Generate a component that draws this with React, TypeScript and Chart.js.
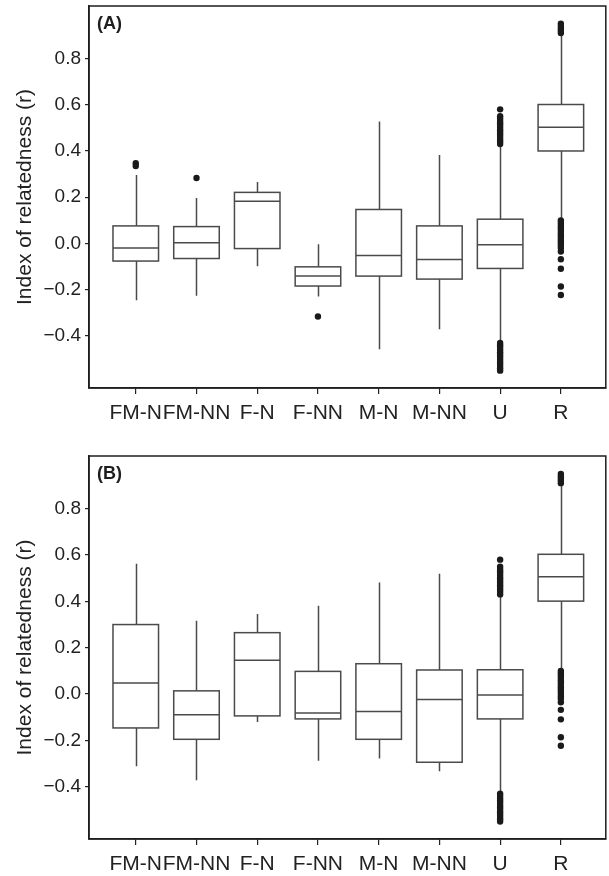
import React, { useEffect, useRef } from "react";
import { Chart, registerables } from "chart.js";

Chart.register(...registerables);

const FONT = '"Liberation Sans", Arial, Helvetica, sans-serif';

const categories = ["FM-N", "FM-NN", "F-N", "F-NN", "M-N", "M-NN", "U", "R"];
const panelLabels = ["(A)", "(B)"];
const yTickValues = [-0.4, -0.2, 0, 0.2, 0.4, 0.6, 0.8];
const yAxisTitle = "Index of relatedness (r)";

// Shared outliers for U and R
const uOutliers = [
  0.43, 0.44, 0.45, 0.46, 0.47, 0.48, 0.49, 0.5, 0.51, 0.52, 0.53, 0.54, 0.55, 0.58,
  -0.43, -0.44, -0.45, -0.46, -0.47, -0.48, -0.49, -0.5, -0.51, -0.52, -0.53, -0.54, -0.55,
];
const rOutliers = [
  0.91, 0.92, 0.93, 0.94, 0.95,
  0.1, 0.09, 0.08, 0.07, 0.06, 0.05, 0.04, 0.03, 0.02, 0.01, 0.0, -0.01, -0.02, -0.035,
  -0.068, -0.109, -0.186, -0.223,
];

// Panel A
const aWhiskerLow = [-0.246, -0.226, -0.099, -0.229, -0.457, -0.371, -0.423, 0.102];
const aQ1 = [-0.076, -0.065, -0.022, -0.184, -0.141, -0.154, -0.108, 0.4];
const aMedian = [-0.02, 0.003, 0.183, -0.141, -0.052, -0.069, -0.006, 0.503];
const aQ3 = [0.076, 0.073, 0.221, -0.101, 0.147, 0.076, 0.105, 0.601];
const aWhiskerHigh = [0.296, 0.197, 0.266, -0.003, 0.528, 0.383, 0.423, 0.907];
const aOutliers = [[0.335, 0.347], [0.283], [], [-0.316], [], [], uOutliers, rOutliers];

// Panel B
const bWhiskerLow = [-0.311, -0.372, -0.12, -0.288, -0.278, -0.333, -0.423, 0.102];
const bQ1 = [-0.146, -0.195, -0.094, -0.107, -0.195, -0.294, -0.107, 0.401];
const bMedian = [0.048, -0.089, 0.146, -0.081, -0.075, -0.023, -0.004, 0.506];
const bQ3 = [0.3, 0.014, 0.265, 0.098, 0.131, 0.104, 0.105, 0.603];
const bWhiskerHigh = [0.562, 0.316, 0.346, 0.381, 0.481, 0.519, 0.423, 0.907];
const bOutliers = [[], [], [], [], [], [], uOutliers, rOutliers];

type Stats = {
  lo: number[];
  q1: number[];
  med: number[];
  q3: number[];
  hi: number[];
  out: number[][];
};

function makeChart(
  canvas: HTMLCanvasElement,
  stats: Stats,
  label: string,
  padTop: number,
  xAxisHeight: number
) {
  const halfW = 0.375;
  const boxPlugin = {
    id: "boxes",
    beforeDatasetsDraw(chart: any) {
      const { ctx } = chart;
      const x = chart.scales.x;
      const y = chart.scales.y;
      ctx.save();
      ctx.strokeStyle = "#4a4a4a";
      ctx.lineWidth = 1.5;
      categories.forEach((_, i) => {
        const xc = Math.round(x.getPixelForValue(i + 1)) + 0.5;
        const xl = x.getPixelForValue(i + 1 - halfW);
        const xr = x.getPixelForValue(i + 1 + halfW);
        const yLo = y.getPixelForValue(stats.lo[i]);
        const yQ1 = y.getPixelForValue(stats.q1[i]);
        const yMed = y.getPixelForValue(stats.med[i]);
        const yQ3 = y.getPixelForValue(stats.q3[i]);
        const yHi = y.getPixelForValue(stats.hi[i]);
        ctx.beginPath();
        ctx.moveTo(xc, yHi);
        ctx.lineTo(xc, yQ3);
        ctx.moveTo(xc, yQ1);
        ctx.lineTo(xc, yLo);
        ctx.stroke();
        ctx.fillStyle = "#ffffff";
        ctx.fillRect(xl, yQ3, xr - xl, yQ1 - yQ3);
        ctx.strokeRect(xl, yQ3, xr - xl, yQ1 - yQ3);
        ctx.beginPath();
        ctx.moveTo(xl, yMed);
        ctx.lineTo(xr, yMed);
        ctx.stroke();
      });
      ctx.restore();
    },
    afterDraw(chart: any) {
      const { ctx, chartArea } = chart;
      ctx.save();
      ctx.strokeStyle = "#1e1e1e";
      ctx.lineWidth = 1.5;
      ctx.strokeRect(
        chartArea.left,
        chartArea.top,
        chartArea.right - chartArea.left,
        chartArea.bottom - chartArea.top
      );
      ctx.fillStyle = "#1e1e1e";
      ctx.font = `bold 18px ${FONT}`;
      ctx.textBaseline = "top";
      ctx.textAlign = "left";
      ctx.fillText(label, chartArea.left + 8, chartArea.top + 9);
      ctx.restore();
    },
  };

  const points: { x: number; y: number }[] = [];
  stats.out.forEach((arr, i) => arr.forEach((v) => points.push({ x: i + 1, y: v })));

  return new Chart(canvas, {
    type: "scatter",
    data: {
      datasets: [
        {
          data: points,
          pointRadius: 3.2,
          pointHoverRadius: 3.2,
          backgroundColor: "#1a1a1a",
          borderWidth: 0,
        },
      ],
    },
    options: {
      responsive: false,
      animation: false,
      events: [],
      layout: { padding: { top: padTop, right: 1.5, left: 0, bottom: 0 } },
      plugins: { legend: { display: false }, tooltip: { enabled: false } },
      scales: {
        x: {
          type: "linear",
          min: 0.23,
          max: 8.74,
          afterBuildTicks: (axis: any) => {
            axis.ticks = categories.map((_, i) => ({ value: i + 1 }));
          },
          afterFit: (axis: any) => {
            axis.height = xAxisHeight;
            axis.paddingLeft = 0;
            axis.paddingRight = 0;
          },
          ticks: {
            autoSkip: false,
            maxRotation: 0,
            padding: 7,
            color: "#222",
            font: { family: FONT, size: 21 },
            callback: (v: any) => categories[Math.round(Number(v)) - 1],
          },
          grid: {
            drawOnChartArea: false,
            drawTicks: true,
            tickLength: 6,
            color: "#222",
            lineWidth: 1.2,
          },
          border: { display: true, color: "#1e1e1e", width: 1.5 },
        },
        y: {
          type: "linear",
          min: -0.625,
          max: 1.027,
          afterBuildTicks: (axis: any) => {
            axis.ticks = yTickValues.map((v) => ({ value: v }));
          },
          afterFit: (axis: any) => {
            axis.width = 89;
            axis.paddingTop = 0;
            axis.paddingBottom = 0;
          },
          ticks: {
            padding: 4,
            color: "#222",
            font: { family: FONT, size: 19 },
            callback: (v: any) => {
              const n = Number(v);
              return (n < -1e-9 ? "\u2212" : "") + Math.abs(n).toFixed(1);
            },
          },
          grid: {
            drawOnChartArea: false,
            drawTicks: true,
            tickLength: 4,
            color: "#222",
            lineWidth: 1.2,
          },
          border: { display: true, color: "#1e1e1e", width: 1.5 },
          title: {
            display: true,
            text: yAxisTitle,
            color: "#222",
            font: { family: FONT, size: 21 },
            padding: { top: 13, bottom: 0 },
          },
        },
      },
    } as any,
    plugins: [boxPlugin as any],
  });
}

export default function App() {
  const refA = useRef<HTMLCanvasElement>(null);
  const refB = useRef<HTMLCanvasElement>(null);

  useEffect(() => {
    const chartA = makeChart(
      refA.current!,
      { lo: aWhiskerLow, q1: aQ1, med: aMedian, q3: aQ3, hi: aWhiskerHigh, out: aOutliers },
      panelLabels[0],
      6,
      50
    );
    const chartB = makeChart(
      refB.current!,
      { lo: bWhiskerLow, q1: bQ1, med: bMedian, q3: bQ3, hi: bWhiskerHigh, out: bOutliers },
      panelLabels[1],
      18,
      37
    );
    return () => {
      chartA.destroy();
      chartB.destroy();
    };
  }, []);

  return (
    <div style={{ position: "absolute", left: 0, top: 0, width: 609, height: 876, background: "#fff", overflow: "hidden" }}>
      <canvas ref={refA} width={609} height={438} style={{ display: "block", width: 609, height: 438 }} />
      <canvas ref={refB} width={609} height={438} style={{ display: "block", width: 609, height: 438 }} />
    </div>
  );
}
